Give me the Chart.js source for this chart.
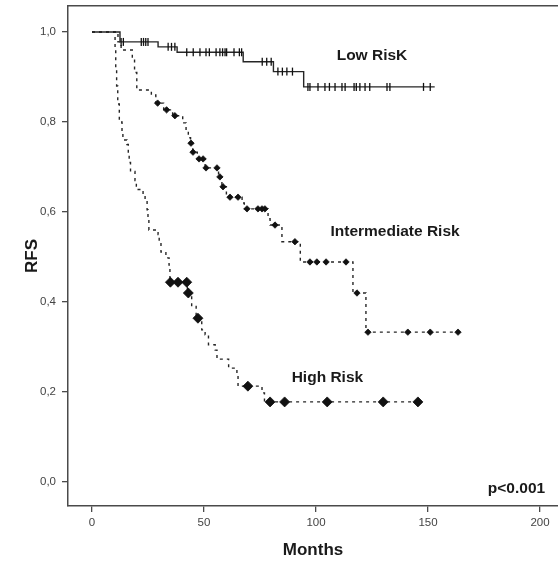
<!DOCTYPE html>
<html>
<head>
<meta charset="utf-8">
<script src="https://cdn.jsdelivr.net/npm/chart.js@4"></script>
<style>
  html, body { margin: 0; padding: 0; background: #fff; }
  #chart-box { width: 558px; height: 569px; }
</style>
</head>
<body>
<div id="chart-box"><canvas id="km-canvas"></canvas></div>
<script>
/* -------------  KAPLAN-MEIER DATA  ------------- */

// Low risk: step times (months) and RFS after each step
const lowTimes = [0, 12.5, 29.5, 38, 67.5, 81, 94.5, 153];
const lowSurv = [1.0, 0.978, 0.967, 0.955, 0.934, 0.912, 0.878, 0.878];
const lowCensored = [13, 14, 22, 23, 24, 25, 34, 35.5, 37, 42.3, 45.2, 48.2, 50.9, 52.4, 55.4, 57.1, 58.3, 59.4, 60.1,
  63.4, 65.8, 66.8, 76, 78, 80, 83, 85, 87, 89.5, 96.4, 97.3, 100.9, 104, 106, 108.5, 111.6, 113, 117, 118, 119.6,
  121.9, 124, 131.7, 133, 148, 151];

// Intermediate risk
const midTimes = [0, 11.6, 13, 18, 19, 20, 26.5, 28.5, 32, 36, 40.5, 42, 43, 44, 45, 47, 50.5, 56.5, 58, 60, 67, 68,
  78.6, 79.5, 84.8, 93, 116.5, 122.3, 163.4];
const midSurv = [1.0, 0.978, 0.96, 0.94, 0.91, 0.871, 0.86, 0.842, 0.827, 0.814, 0.798, 0.78, 0.765, 0.753, 0.733,
  0.718, 0.698, 0.678, 0.656, 0.633, 0.62, 0.607, 0.585, 0.571, 0.534, 0.489, 0.42, 0.333, 0.333];
const midCensored = [29.3, 33.3, 37, 44.2, 45.1, 47.8, 49.6, 50.9, 55.8, 57.1, 58.5, 61.6, 65.2, 69.2, 74.1, 75.9,
  77.2, 81.7, 90.6, 97.3, 100.4, 104.5, 113.4, 118.3, 123.2, 141, 151, 163.4];

// High risk
const highTimes = [0, 10.3, 10.6, 11, 11.5, 12.2, 13.4, 13.8, 15.6, 16.2, 16.6, 17.2, 19.2, 19.8, 22.8, 23.7, 24.6,
  25, 25.4, 29.5, 30, 30.8, 33, 34.4, 34.8, 42.6, 44.5, 46.5, 49, 50.5, 52, 55, 55.8, 61, 64.7, 65.2, 75.9, 77, 145.5];
const highSurv = [1.0, 0.96, 0.92, 0.88, 0.84, 0.8, 0.78, 0.76, 0.75, 0.73, 0.71, 0.69, 0.67, 0.65, 0.64, 0.625,
  0.605, 0.585, 0.56, 0.55, 0.533, 0.511, 0.498, 0.482, 0.444, 0.42, 0.39, 0.364, 0.338, 0.327, 0.305, 0.293, 0.273,
  0.253, 0.242, 0.213, 0.198, 0.178, 0.178];
const highCensored = [35, 38.4, 42.3, 43, 47.3, 69.6, 79.5, 86, 105, 130, 145.5];

const xTicks = [0, 50, 100, 150, 200];
const yTicks = [0, 0.2, 0.4, 0.6, 0.8, 1.0];

const curveLabels = [
  { text: 'Low RisK', x: 125, y: 0.947 },
  { text: 'Intermediate Risk', x: 135.3, y: 0.556 },
  { text: 'High Risk', x: 105.1, y: 0.231 },
  { text: 'p<0.001', x: 189.5, y: -0.0156 },
];

const LINE_COLOR = '#262626';
const AXIS_COLOR = '#4a4a4a';

/**
 * Builds {x, y} points from a times and a survival array.
 */
function toPoints(times, surv) {
  return times.map((t, i) => ({ x: t, y: surv[i] }));
}

/**
 * Finds the RFS value of a step curve at month t (censor marks sit on the curve).
 */
function survAt(times, surv, t) {
  let value = surv[0];
  times.forEach((time, i) => {
    if (time <= t) value = surv[i];
  });
  return value;
}

function censorPoints(list, times, surv) {
  return list.map((t) => ({ x: t, y: survAt(times, surv, t) }));
}

function curveDataset(points, dash) {
  return {
    data: points,
    showLine: true,
    stepped: true,
    borderColor: LINE_COLOR,
    borderWidth: 1.4,
    borderDash: dash,
    pointRadius: 0,
    order: 2,
  };
}

function markDataset(points, style, radius, rotation) {
  return {
    data: points,
    showLine: false,
    pointStyle: style,
    pointRadius: radius,
    pointRotation: rotation,
    pointBorderWidth: style === 'line' ? 1.3 : 0.8,
    pointBorderColor: '#111',
    pointBackgroundColor: '#111',
    order: 1,
  };
}

/**
 * Fixes the size of an axis box and drops the label overflow padding.
 */
function fixBox(size) {
  return (scale) => {
    if (scale.isHorizontal()) scale.height = size;
    else scale.width = size;
    scale.paddingTop = 0;
    scale.paddingBottom = 0;
    scale.paddingLeft = 0;
    scale.paddingRight = 0;
  };
}

const curveTextPlugin = {
  id: 'curveText',
  afterDatasetsDraw(chart) {
    const ctx = chart.ctx;
    const xs = chart.scales.x;
    const ys = chart.scales.y;
    ctx.save();
    ctx.fillStyle = '#1a1a1a';
    ctx.font = 'bold 15.5px "Liberation Sans", Arial, sans-serif';
    ctx.textAlign = 'center';
    ctx.textBaseline = 'middle';
    curveLabels.forEach((l) => {
      ctx.fillText(l.text, xs.getPixelForValue(l.x), ys.getPixelForValue(l.y));
    });
    ctx.restore();
  },
};

function setChartConfig() {
  return {
    type: 'scatter',
    data: {
      datasets: [
        curveDataset(toPoints(lowTimes, lowSurv), []),
        curveDataset(toPoints(midTimes, midSurv), [3, 4]),
        curveDataset(toPoints(highTimes, highSurv), [3, 4]),
        markDataset(censorPoints(lowCensored, lowTimes, lowSurv), 'line', 4, 90),
        markDataset(censorPoints(midCensored, midTimes, midSurv), 'rectRot', 3.2, 0),
        markDataset(censorPoints(highCensored, highTimes, highSurv), 'rectRot', 5, 0),
      ],
    },
    options: {
      responsive: false,
      animation: false,
      layout: { autoPadding: false, padding: { top: 6, right: 0, left: 0, bottom: 0 } },
      plugins: { legend: { display: false }, tooltip: { enabled: false } },
      scales: {
        x: {
          type: 'linear',
          min: -10.71,
          max: 208.04,
          afterBuildTicks: (scale) => { scale.ticks = xTicks.map((v) => ({ value: v })); },
          afterFit: fixBox(63),
          grid: { drawOnChartArea: false, tickLength: 6, color: AXIS_COLOR, lineWidth: 1.3 },
          border: { color: AXIS_COLOR, width: 1.5 },
          ticks: { padding: 4, color: '#444', font: { family: '"Liberation Sans", Arial', size: 11.5 } },
          title: {
            display: true,
            text: 'Months',
            color: '#1a1a1a',
            font: { family: '"Liberation Sans", Arial', size: 17, weight: 'bold' },
            padding: { top: 0, bottom: 8 },
          },
        },
        xTop: {
          type: 'linear',
          position: 'top',
          min: -10.71,
          max: 208.04,
          grid: { display: false },
          ticks: { display: false },
          border: { color: AXIS_COLOR, width: 1.5 },
          afterFit: fixBox(0),
        },
        y: {
          type: 'linear',
          min: -0.0533,
          max: 1.0578,
          afterBuildTicks: (scale) => { scale.ticks = yTicks.map((v) => ({ value: v })); },
          afterFit: fixBox(68),
          grid: { drawOnChartArea: false, tickLength: 6, color: AXIS_COLOR, lineWidth: 1.3 },
          border: { color: AXIS_COLOR, width: 1.5 },
          ticks: {
            padding: 6,
            color: '#444',
            font: { family: '"Liberation Sans", Arial', size: 11.5 },
            callback: (v) => v.toFixed(1).replace('.', ','),
          },
          title: {
            display: true,
            text: 'RFS',
            color: '#1a1a1a',
            font: { family: '"Liberation Sans", Arial', size: 17, weight: 'bold' },
            padding: { top: 22, bottom: 0 },
          },
        },
      },
    },
    plugins: [curveTextPlugin],
  };
}

const canvas = document.getElementById('km-canvas');
canvas.width = 558;
canvas.height = 569;
const kmChart = new Chart(canvas, setChartConfig());
</script>
</body>
</html>
